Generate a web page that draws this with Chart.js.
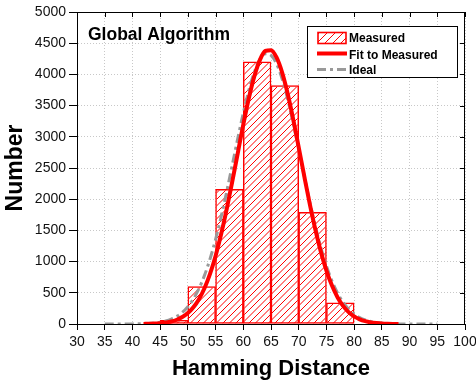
<!DOCTYPE html>
<html><head><meta charset="utf-8">
<script src="https://cdn.jsdelivr.net/npm/chart.js@4/dist/chart.umd.min.js"></script>
<style>html,body{margin:0;padding:0;background:#fff;}</style>
</head><body>
<canvas id="c" width="476" height="385" style="width:476px;height:385px;display:block"></canvas>
<script>
// ---- data ----
const binCenters = [47.5, 52.5, 57.5, 62.5, 67.5, 72.5, 77.5];
const measuredCounts = [60, 600, 2160, 4200, 3820, 1790, 340];

const fitX = [42,43,44,45,46,47,48,49,50,51,52,53,54,55,56,57,58,59,60,61,62,63,64,65,66,67,68,69,70,71,72,73,74,75,76,77,78,79,80,81,82,83,84,85,86,87,88];
const fitY = [2,4,7,13,24,40,68,111,175,267,398,574,803,1091,1437,1836,2276,2736,3194,3617,3972,4233,4376,4389,4272,4033,3694,3283,2830,2368,1922,1514,1156,857,616,430,291,191,122,75,45,26,15,8,4,2,1];

const idealX = [35,36,37,38,39,40,41,42,43,44,45,46,47,48,49,50,51,52,53,54,55,56,57,58,59,60,61,62,63,64,65,66,67,68,69,70,71,72,73,74,75,76,77,78,79,80,81,82,83,84,85,86,87,88,89,90,91,92,93,94,95];
const idealY = [0,0,0,0,1,2,3,5,10,17,29,48,78,122,186,277,402,567,779,1042,1355,1717,2118,2542,2972,3380,3744,4038,4237,4330,4306,4170,3931,3606,3221,2801,2371,1954,1568,1224,930,688,496,348,237,158,102,64,39,24,14,8,4,2,1,0,0,0,0,0,0];

const seriesNames = ['Measured', 'Fit to Measured', 'Ideal'];
const chartLabel = 'Global Algorithm';
const xTitle = 'Hamming Distance';
const yTitle = 'Number';

// ---- drawing ----
const FONT = "'Liberation Sans', Arial, Helvetica, sans-serif";
const canvas = document.getElementById('c');
const ctx = canvas.getContext('2d');

function hatchRect(g, left, top, right, bottom, step) {
  g.save();
  g.beginPath();
  g.rect(left, top, right - left, bottom - top);
  g.clip();
  g.strokeStyle = '#ff0000';
  g.lineWidth = 1.0;
  g.beginPath();
  const c0 = Math.floor((left + top) / step) * step;
  for (let c = c0; c <= right + bottom + step; c += step) {
    g.moveTo(c - bottom, bottom);
    g.lineTo(c - top, top);
  }
  g.stroke();
  g.restore();
}

const decor = {
  id: 'decor',
  afterDatasetDraw(chart, args) {
    if (args.meta.type !== 'bar') return;
    const g = chart.ctx;
    args.meta.data.forEach(el => {
      const p = el.getProps(['x', 'y', 'base', 'width'], true);
      const l = p.x - p.width / 2, r = p.x + p.width / 2;
      const t = Math.min(p.y, p.base), b = Math.max(p.y, p.base);
      if (b - t > 2) hatchRect(g, l + 1, t + 1, r - 1, b, 6.5);
    });
  },
  afterDraw(chart) {
    const a = chart.chartArea;
    const g = chart.ctx;
    const xs = chart.scales.x, ys = chart.scales.y;
    g.save();
    // frame
    g.strokeStyle = '#000'; g.lineWidth = 1;
    g.strokeRect(a.left + 0.5, a.top + 0.5, a.right - a.left - 1, a.bottom - a.top);
    // inward ticks on top and right
    g.beginPath();
    xs.ticks.forEach(t => { const px = Math.round(xs.getPixelForValue(t.value)) + 0.5; g.moveTo(px, a.top); g.lineTo(px, a.top + 5); });
    ys.ticks.forEach(t => { const py = Math.round(ys.getPixelForValue(t.value)) + 0.5; g.moveTo(a.right, py); g.lineTo(a.right - 5, py); });
    g.stroke();
    // in-plot label
    g.fillStyle = '#000';
    g.font = "bold 17.5px " + FONT;
    g.textBaseline = 'alphabetic'; g.textAlign = 'left';
    g.fillText(chartLabel, a.left + 11, a.top + 27.5);
    // legend box
    const lx = a.right - 158, ly = a.top + 14, lw = 150, lh = 51;
    g.fillStyle = '#fff'; g.fillRect(lx, ly, lw, lh);
    g.strokeStyle = '#000'; g.lineWidth = 1;
    g.strokeRect(lx + 0.5, ly + 0.5, lw, lh);
    const sx = lx + 10, sw = 29, tx = lx + 42;
    // measured swatch
    hatchRect(g, sx + 1, ly + 6.5, sx + sw, ly + 17.5, 8);
    g.strokeStyle = '#ff0000'; g.lineWidth = 1.6;
    g.strokeRect(sx + 1, ly + 6.5, sw - 1, 11);
    // fit line swatch
    g.beginPath(); g.lineWidth = 4; g.strokeStyle = '#ff0000';
    g.moveTo(sx, ly + 27.5); g.lineTo(sx + sw + 1, ly + 27.5); g.stroke();
    // ideal swatch
    g.beginPath(); g.lineWidth = 3; g.strokeStyle = '#999999'; g.setLineDash([9, 4, 3, 4]);
    g.moveTo(sx, ly + 43.5); g.lineTo(sx + sw + 1, ly + 43.5); g.stroke();
    g.setLineDash([]);
    g.fillStyle = '#000'; g.font = "bold 12px " + FONT;
    g.fillText(seriesNames[0], tx, ly + 16);
    g.fillText(seriesNames[1], tx, ly + 32.5);
    g.fillText(seriesNames[2], tx, ly + 47.5);
    g.restore();
  }
};

new Chart(ctx, {
  type: 'bar',
  data: {
    datasets: [
      { type: 'line', label: seriesNames[1], data: fitX.map((x, i) => ({ x, y: fitY[i] })),
        borderColor: '#ff0000', borderWidth: 4, pointRadius: 0, cubicInterpolationMode: 'monotone', fill: false, order: 0 },
      { type: 'line', label: seriesNames[2], data: idealX.map((x, i) => ({ x, y: idealY[i] })),
        borderColor: '#999999', borderWidth: 3, borderDash: [9, 4, 3, 4], pointRadius: 0, cubicInterpolationMode: 'monotone', fill: false, order: 1 },
      { type: 'bar', label: seriesNames[0], data: binCenters.map((x, i) => ({ x, y: measuredCounts[i] })),
        backgroundColor: '#ffffff', borderColor: '#ff0000', borderWidth: 1.5, borderSkipped: false,
        barPercentage: 1, categoryPercentage: 1, order: 2 }
    ]
  },
  options: {
    responsive: false, animation: false, events: [],
    plugins: { legend: { display: false }, tooltip: { enabled: false } },
    layout: { padding: { top: 12, right: 11, left: 0, bottom: 0 } },
    scales: {
      x: {
        type: 'linear', min: 30, max: 100, offset: false,
        ticks: { stepSize: 5, color: '#111', font: { family: FONT, size: 14 }, padding: 4, maxRotation: 0, autoSkip: false,
                 callback: v => String(v) },
        grid: { color: '#c8c8c8', lineWidth: 1, offset: false, drawTicks: true, tickLength: 6, tickColor: '#000', tickWidth: 1, tickBorderDash: [] },
        border: { color: '#000', width: 1, dash: [1, 2] },
        title: { display: true, text: xTitle, color: '#000', font: { family: FONT, size: 22, weight: 'bold' }, padding: { top: 0, bottom: 3 } },
        afterFit(s) { s.height = 61; s.paddingLeft = 0; s.paddingRight = 0; }
      },
      y: {
        min: 0, max: 5000,
        ticks: { stepSize: 500, color: '#111', font: { family: FONT, size: 14 }, padding: 3, callback: v => String(v) },
        grid: { color: '#c8c8c8', lineWidth: 1, drawTicks: true, tickLength: 8, tickColor: '#000', tickWidth: 1, tickBorderDash: [] },
        border: { color: '#000', width: 1, dash: [1, 2] },
        title: { display: true, text: yTitle, color: '#000', font: { family: FONT, size: 23, weight: 'bold' }, padding: { top: 2, bottom: 0 } },
        afterFit(s) { s.width = 77; s.paddingTop = 0; s.paddingBottom = 0; }
      }
    }
  },
  plugins: [decor]
});
</script>
</body></html>
